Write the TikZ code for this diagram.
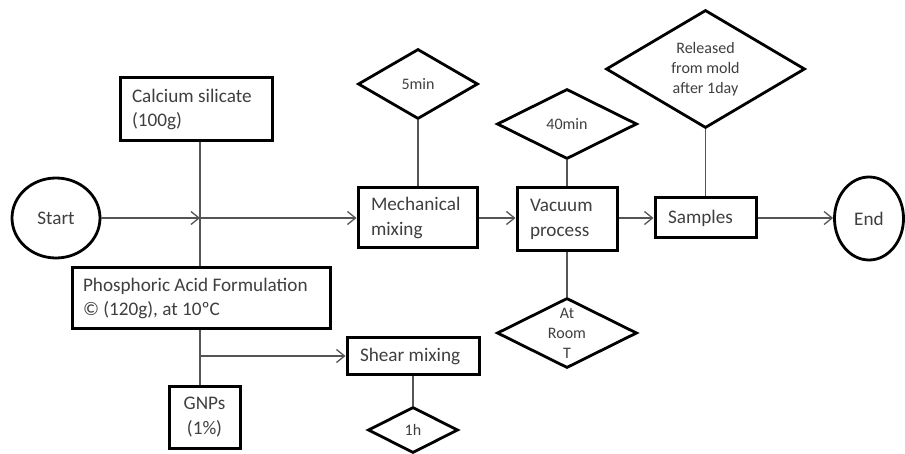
\documentclass[tikz,border=0pt]{standalone}
\usepackage{fontspec}
\setmainfont{Carlito}
\usetikzlibrary{shapes.geometric,arrows.meta}
\definecolor{txtgray}{HTML}{3F3F3F}
\definecolor{linegray}{HTML}{555555}
\begin{document}
\begin{tikzpicture}[x=1pt,y=-1pt,
  box/.style={draw=black, line width=3pt, rectangle, inner xsep=13pt, inner ysep=0pt,
    align=flush left, text=txtgray, font=\fontsize{19.2}{24.5}\selectfont},
  oval/.style={draw=black, line width=2.8pt, ellipse, inner sep=0pt,
    text=txtgray, font=\fontsize{19.2}{24.5}\selectfont},
  diam/.style={draw=black, line width=2.8pt, diamond, inner sep=0pt},
  dtext/.style={text=txtgray, align=center, font=\fontsize{16}{20}\selectfont, inner sep=0pt},
  conn/.style={draw=linegray, line width=1.3pt},
  arr/.style={conn, -{Straight Barb[length=8pt,width=13pt,line width=1.3pt]}}
]
\useasboundingbox[fill=white] (0,0) rectangle (905,454);

% terminals
\node[oval, minimum width=88pt, minimum height=80pt] (start) at (56,218) {Start};
\node[oval, minimum width=69pt, minimum height=83pt] (endn) at (869,218.5) {End};

% boxes
\node[box, minimum width=152pt, minimum height=63pt, text width=128pt, inner xsep=12pt] (cal) at (196,109.5) {Calcium silicate\\(100g)};
\node[box, minimum width=258pt, minimum height=61pt, text width=236pt, inner xsep=11pt] (phos) at (201,298.5) {Phosphoric Acid Formulation\\© (120g), at 10ºC};
\node[box, minimum width=71pt, minimum height=62pt, text width=49pt, inner xsep=11pt, align=center] (gnp) at (204.5,417) {GNPs\\(1\%)};
\node[box, minimum width=132pt, minimum height=36pt, text width=106pt] (shear) at (413,356) {Shear mixing};
\node[box, minimum width=119pt, minimum height=60pt, text width=93pt] (mech) at (417.5,218) {Mechanical\\mixing};
\node[box, minimum width=100pt, minimum height=63pt, text width=74pt] (vac) at (567,219.5) {Vacuum\\process};
\node[box, minimum width=101pt, minimum height=40pt, text width=75pt] (samp) at (705.5,218) {Samples};

% diamonds
\node[diam, minimum width=120pt, minimum height=70pt, label={[dtext]center:5min}] (d5) at (418,84) {};
\node[diam, minimum width=140pt, minimum height=70pt, label={[dtext]center:40min}] (d40) at (567,124) {};
\node[diam, minimum width=199pt, minimum height=118pt, label={[dtext]center:{Released\\from mold\\after 1day}}] (drel) at (705.5,69) {};
\node[diam, minimum width=140pt, minimum height=70pt, label={[dtext]center:{At\\Room\\T}}] (droom) at (567,333) {};
\node[diam, minimum width=90pt, minimum height=46pt, label={[dtext]center:1h}] (d1h) at (413,430) {};

% junctions
\coordinate (j1) at (200,218);
\coordinate (j2) at (200,356);

% connectors
\draw[conn] (cal.south -| j1) -- (phos.north -| j1);
\draw[conn] (phos.south -| j2) -- (gnp.north -| j2);
\draw[arr] (start.east) -- (j1);
\draw[arr] (j1) -- (mech.west |- j1);
\draw[arr] (j2) -- (shear.west);
\draw[arr] (mech.east) -- (mech.east -| vac.west);
\draw[arr] (vac.east |- samp.east) -- (samp.west);
\draw[arr] (samp.east) -- (samp.east -| endn.west);
\draw[conn] (d5.south) -- (mech.north -| d5.south);
\draw[conn] (d40.south) -- (vac.north);
\draw[conn] (drel.south) -- (samp.north -| drel.south);
\draw[conn] (vac.south) -- (droom.north);
\draw[conn] (shear.south) -- (d1h.north);
\end{tikzpicture}
\end{document}
